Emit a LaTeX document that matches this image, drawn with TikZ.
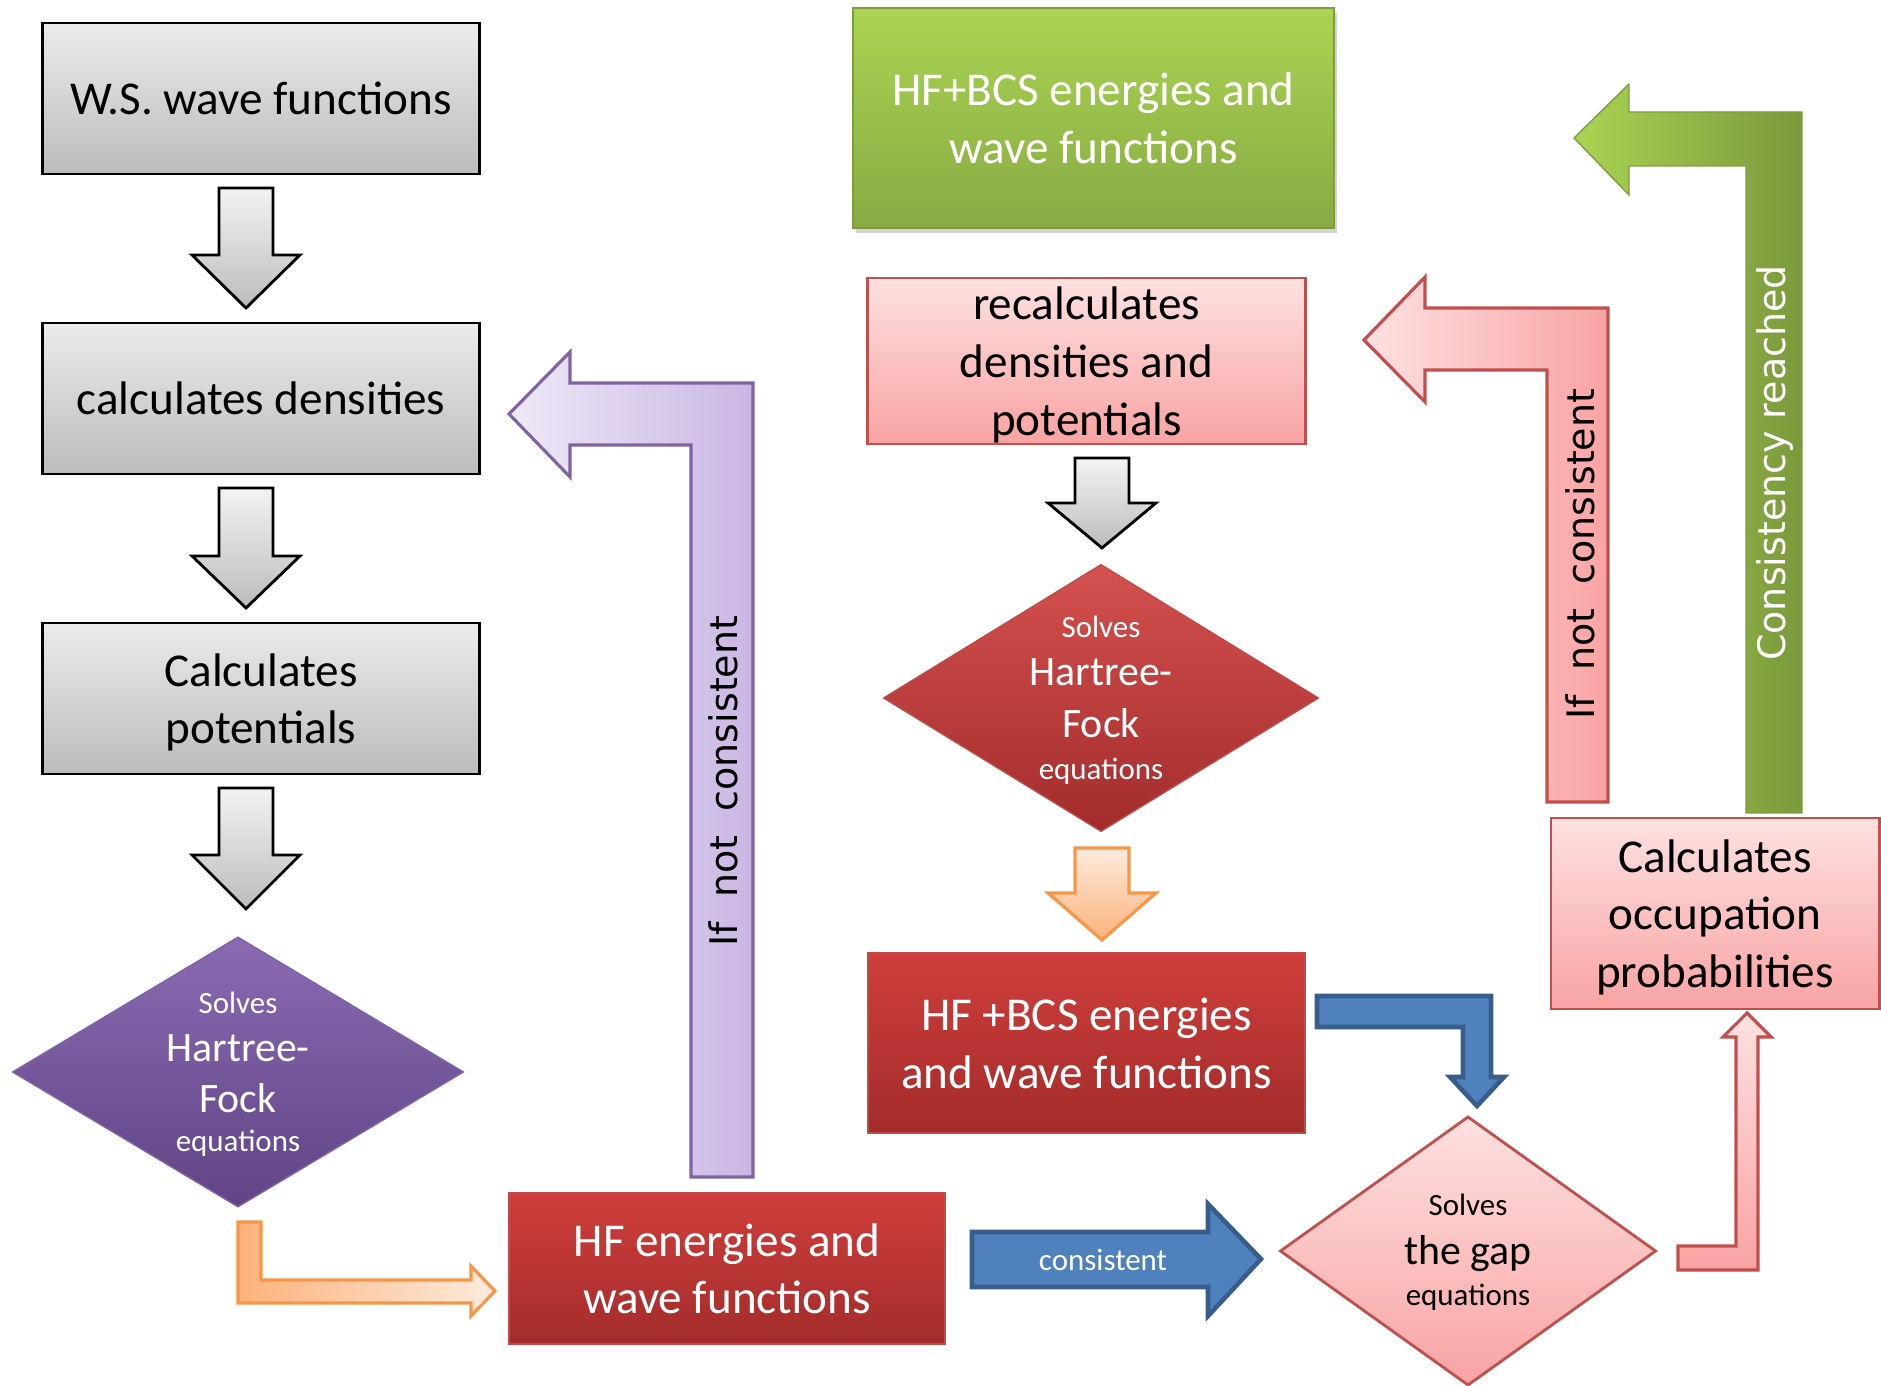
\documentclass[tikz,border=0pt]{standalone}
\usepackage{fontspec}
\setmainfont{Carlito}
\newfontfamily\sidefont{DejaVu Sans}
\usepackage{tikz}
\usetikzlibrary{shapes.geometric,shadows}

\definecolor{greytop}{HTML}{EBEBEB}
\definecolor{greybot}{HTML}{BCBCBC}
\definecolor{redtop}{HTML}{CF3E3B}
\definecolor{redbot}{HTML}{A22C2B}
\definecolor{redline}{HTML}{BE4B48}
\definecolor{pinktop}{HTML}{FDE1E1}
\definecolor{pinkbot}{HTML}{F9A3A3}
\definecolor{pinkline}{HTML}{C0504D}
\definecolor{greentop}{HTML}{AAD452}
\definecolor{greenbot}{HTML}{88AA43}
\definecolor{greenline}{HTML}{7E9E3D}
\definecolor{purptop}{HTML}{8A6BB3}
\definecolor{purpbot}{HTML}{604485}
\definecolor{purpline}{HTML}{8064A2}
\definecolor{lavlight}{HTML}{EEE9F7}
\definecolor{lavdark}{HTML}{CAB6E3}
\definecolor{orangeline}{HTML}{F79646}
\definecolor{orangedark}{HTML}{FBB27B}
\definecolor{orangelight}{HTML}{FDEBDD}
\definecolor{bluefill}{HTML}{4F81BD}
\definecolor{blueline}{HTML}{385D8A}

\newcommand{\smalltext}{\fontsize{8.8}{11}\selectfont}
\newcommand{\diamtext}{\fontsize{11.9}{16.4}\selectfont}
\newcommand{\downblock}[5]{\draw[#1] (#2-27,#3) -- (#2+27,#3) -- (#2+27,#4) -- (#2+54,#4) -- (#2,#5) -- (#2-54,#4) -- (#2-27,#4) -- cycle;}

\begin{document}
\begin{tikzpicture}[x=0.01cm, y=-0.01cm,
	boxtext/.style={font=\fontsize{13.4}{16.4}\selectfont, align=center, inner sep=0pt, text depth=0pt},
	greybox/.style={boxtext, draw=black, line width=0.8pt, top color=greytop, bottom color=greybot},
	redbox/.style={boxtext, text=white, draw=redline, line width=0.6pt, top color=redtop, bottom color=redbot},
	pinkbox/.style={boxtext, draw=pinkline, line width=0.8pt, top color=pinktop, bottom color=pinkbot},
	greenbox/.style={boxtext, text=white, draw=greenline, line width=0.6pt, top color=greentop, bottom color=greenbot,
	  drop shadow={opacity=0.35, shadow xshift=0.03cm, shadow yshift=-0.05cm}},
	purplediam/.style={diamond, inner sep=0pt, draw=purpline, line width=0.4pt, top color=purptop, bottom color=purpbot},
	reddiam/.style={diamond, inner sep=0pt, draw=redline, line width=0.4pt, top color=redtop!90!white, bottom color=redbot},
	pinkdiam/.style={diamond, inner sep=0pt, draw=pinkline, line width=0.8pt, top color=pinktop, bottom color=pinkbot},
	sidetext/.style={font=\sidefont\fontsize{10.8}{13}\selectfont, rotate=90, inner sep=0pt},
	greyarrow/.style={draw=black, line width=0.8pt, top color=greytop!60!white, bottom color=greybot},
	orangearrow/.style={draw=orangeline, line width=0.9pt},
	purplearrow/.style={draw=purpline, line width=0.9pt, left color=lavlight, right color=lavdark},
	pinkarrow/.style={draw=pinkline, line width=0.9pt},
	greenarrow/.style={draw=greenline, line width=0.4pt, left color=greentop, right color=greenbot!90!black},
	bluearrow/.style={draw=blueline, line width=1.3pt, fill=bluefill}]

	\useasboundingbox (0,0) rectangle (1881,1386);

	\node[greybox, minimum width=4.36cm, minimum height=1.51cm] (ws) at (261,98.5) {W.S. wave functions};
	\node[greybox, minimum width=4.36cm, minimum height=1.51cm] (dens) at (261,398.5) {calculates densities};
	\node[greybox, minimum width=4.36cm, minimum height=1.51cm] (pots) at (261,698.5) {Calculates\\ potentials};

	\downblock{greyarrow}{246}{188}{255}{308}
	\downblock{greyarrow}{246}{488}{556}{608}
	\downblock{greyarrow}{246}{788}{855}{909}

	\node[purplediam, minimum width=4.51cm, minimum height=2.70cm] (hfsolve) at (238,1072) {};
	\node[boxtext, text=white] (hfsolvetext) at (238,1072)
	  {{\smalltext Solves}\\[-2.8pt] {\diamtext Hartree-}\\[-1.9pt] {\diamtext Fock}\\[-5.3pt] {\smalltext equations}};

	\draw[orangearrow, left color=orangedark, right color=orangelight] (238,1222) -- (261,1222) -- (261,1280) -- (471,1280)
	  -- (471,1266) -- (495,1291) -- (471,1316) -- (471,1303) -- (238,1303) -- cycle;

	\node[redbox, minimum width=4.36cm, minimum height=1.51cm] (hfout) at (727,1268.5) {HF energies and\\ wave functions};

	\draw[purplearrow] (753,1177) -- (753,383) -- (570,383) -- (570,352) -- (509,414)
	  -- (570,477) -- (570,445) -- (691,445) -- (691,1177) -- cycle;
	\node[sidetext] (notcons) at (723,781) {If~~not~~consistent};

	\draw[bluearrow] (972,1232) -- (1208,1232) -- (1208,1204) -- (1261,1259)
	  -- (1208,1316) -- (1208,1287) -- (972,1287) -- cycle;
	\node[font=\smalltext, text=white, inner sep=0pt] (cons) at (1103,1260) {consistent};

	\node[greenbox, minimum width=4.81cm, minimum height=2.20cm] (final) at (1093.5,118) {HF+BCS energies and\\ wave functions};
	\node[pinkbox, minimum width=4.37cm, minimum height=1.66cm] (recalc) at (1086.5,361) {recalculates\\ densities and\\ potentials};

	\downblock{greyarrow}{1102}{458}{503}{548}

	\node[reddiam, minimum width=4.35cm, minimum height=2.67cm] (hfsolveb) at (1101,698) {};
	\node[boxtext, text=white] (hfsolvebtext) at (1101,698)
	  {{\smalltext Solves}\\[-2.8pt] {\diamtext Hartree-}\\[-1.6pt] {\diamtext Fock}\\[-4.5pt] {\smalltext equations}};

	\downblock{orangearrow, top color=orangelight, bottom color=orangedark}{1102}{848}{893}{940}

	\node[redbox, minimum width=4.37cm, minimum height=1.80cm] (hfbcs) at (1086.5,1043) {HF +BCS energies\\ and wave functions};

	\draw[bluearrow] (1317,996) -- (1491,996) -- (1491,1077) -- (1504,1077) -- (1477,1106)
	  -- (1450,1077) -- (1463,1077) -- (1463,1027) -- (1317,1027) -- cycle;

	\node[pinkdiam, minimum width=3.76cm, minimum height=2.69cm] (gap) at (1468,1251) {};
	\node[boxtext] (gaptext) at (1468,1250)
	  {{\smalltext Solves}\\[-2.7pt] {\diamtext the gap}\\[-4.6pt] {\smalltext equations}};

	\draw[pinkarrow, top color=pinktop, bottom color=pinkbot] (1678,1246) -- (1736,1246) -- (1736,1037) -- (1723,1037)
	  -- (1747,1013) -- (1771,1037) -- (1758,1037) -- (1758,1270) -- (1678,1270) -- cycle;

	\node[pinkbox, minimum width=3.28cm, minimum height=1.91cm] (occup) at (1715,913.5) {Calculates\\ occupation\\ probabilities};

	\draw[pinkarrow, left color=pinktop, right color=pinkbot] (1608,802) -- (1608,308) -- (1425,308) -- (1425,277)
	  -- (1364,340) -- (1425,402) -- (1425,370) -- (1547,370) -- (1547,802) -- cycle;
	\node[sidetext] (notconsb) at (1580,554) {If~~not~~consistent};

	\draw[greenarrow] (1802,813) -- (1802,112) -- (1629,112) -- (1629,84) -- (1574,138)
	  -- (1629,195) -- (1629,166) -- (1746,166) -- (1746,813) -- cycle;
	\node[sidetext, text=white] (reached) at (1775,463) {Consistency reached};
\end{tikzpicture}
\end{document}
